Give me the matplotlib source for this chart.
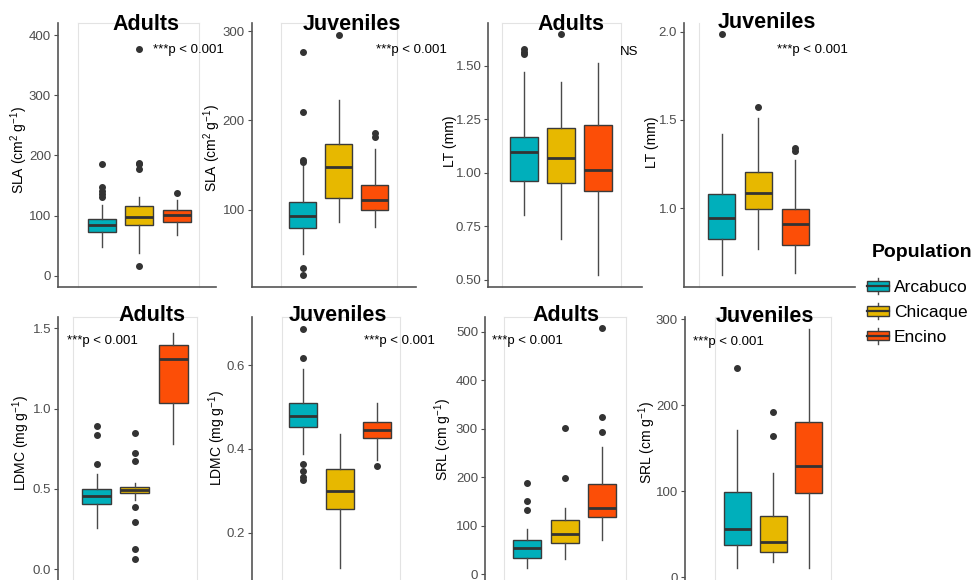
import matplotlib
matplotlib.use('Agg')
import matplotlib.pyplot as plt
from matplotlib.patches import Rectangle, Patch
from matplotlib.lines import Line2D
from matplotlib.legend_handler import HandlerBase

plt.rcParams['font.family'] = ['Liberation Sans', 'DejaVu Sans']
plt.rcParams['mathtext.fontset'] = 'custom'
plt.rcParams['mathtext.rm'] = 'Liberation Sans'
plt.rcParams['mathtext.it'] = 'Liberation Sans:italic'

populations = ['Arcabuco', 'Chicaque', 'Encino']
colors = ['#00AFBB', '#E7B800', '#FC4E07']

# box stats per population: [whisker low, q1, median, q3, whisker high]
sla_adults = [[48, 72.5, 84.6, 94.5, 118], [37, 85, 97, 115, 130], [67, 90, 101, 109, 126]]
sla_adults_out = [[130, 136, 141, 148, 186], [16, 177, 185, 188, 376], [138]]
sla_juv = [[50.5, 80, 93.3, 109.3, 150], [86.6, 113.4, 147.7, 173.4, 223], [80.6, 100, 111, 128, 167.8]]
sla_juv_out = [[27, 35.6, 154, 155.5, 209, 276], [296], [182, 185.5]]
lt_adults = [[0.804, 0.96, 1.095, 1.169, 1.469], [0.691, 0.953, 1.068, 1.211, 1.422], [0.522, 0.916, 1.012, 1.224, 1.514]]
lt_adults_out = [[1.555, 1.565, 1.578], [1.646], []]
lt_juv = [[0.621, 0.825, 0.943, 1.079, 1.419], [0.768, 0.996, 1.085, 1.204, 1.511], [0.636, 0.792, 0.909, 0.994, 1.274]]
lt_juv_out = [[1.985], [1.575], [1.326, 1.34]]
ldmc_adults = [[0.257, 0.406, 0.458, 0.497, 0.592], [0.43, 0.472, 0.493, 0.511, 0.54], [0.778, 1.035, 1.306, 1.393, 1.472]]
ldmc_adults_out = [[0.654, 0.834, 0.894], [0.066, 0.128, 0.292, 0.385, 0.675, 0.725, 0.849], []]
ldmc_juv = [[0.387, 0.453, 0.478, 0.509, 0.59], [0.115, 0.256, 0.30, 0.352, 0.435], [0.373, 0.425, 0.445, 0.463, 0.509]]
ldmc_juv_out = [[0.326, 0.334, 0.346, 0.363, 0.616, 0.687], [], [0.358]]
srl_adults = [[12.4, 33, 55, 70.7, 92.7], [30.9, 65.2, 83.8, 112, 137.4], [70.7, 118.8, 137.4, 186, 263]]
srl_adults_out = [[132.6, 151.8, 188.9], [197.8, 302.2], [292.6, 324.9, 506.9]]
srl_juv = [[10.5, 37.2, 55.8, 99.6, 171.3], [17.4, 29.8, 41.1, 71.3, 121.7], [11.2, 97.7, 129.5, 180.2, 288.4]]
srl_juv_out = [[243], [164.3, 192.6], []]

W, H = 974, 580
fig = plt.figure(figsize=(W / 100, H / 100), dpi=100)


def fxy(x, y):
    return x / W, 1 - y / H


def panel(stats, outs, ticks, ticklabels, title, note, ylabel, lay):
    L, R, T, B = lay['box']
    (v1, p1), (v2, p2) = lay['cal']
    k = (p1 - p2) / (v2 - v1)
    ytop = v1 + (p1 - T) / k
    ybot = v1 - (B - p1) / k
    c1, s, w = lay['x']
    ax = fig.add_axes([L / W, 1 - B / H, (R - L) / W, (B - T) / H])
    ax.set_facecolor('none')
    ax.set_xlim(1 + (L - c1) / s, 1 + (R - c1) / s)
    ax.set_ylim(ybot, ytop)

    # light panel border
    rx0, rx1 = lay['rect']
    gx0 = 1 + (rx0 - c1) / s
    ax.plot([gx0, gx0], [ybot, ytop], color='#E3E3E3', lw=0.8, clip_on=False, zorder=0)
    if rx1 is not None:
        gx1 = 1 + (rx1 - c1) / s
        ax.plot([gx1, gx1], [ybot, ytop], color='#E3E3E3', lw=0.8, clip_on=False, zorder=0)
        ax.plot([gx0, gx1], [ytop, ytop], color='#E3E3E3', lw=0.8, clip_on=False, zorder=0)

    bx = []
    for st, fl, name in zip(stats, outs, populations):
        bx.append(dict(whislo=st[0], q1=st[1], med=st[2], q3=st[3], whishi=st[4], fliers=fl, label=name))
    res = ax.bxp(bx, positions=[1, 2, 3], widths=w / s, patch_artist=True, showcaps=False,
                 boxprops=dict(edgecolor='#3A3A3A', lw=1.0),
                 medianprops=dict(color='#333333', lw=2.0),
                 whiskerprops=dict(color='#4A4A4A', lw=1.0),
                 flierprops=dict(marker='o', markersize=4, markerfacecolor='#333333',
                                 markeredgecolor='#333333'))
    for patch, c in zip(res['boxes'], colors):
        patch.set_facecolor(c)

    for sp in ['top', 'right']:
        ax.spines[sp].set_visible(False)
    for sp in ['left', 'bottom']:
        ax.spines[sp].set_color('#555555')
        ax.spines[sp].set_linewidth(1.2)
    ax.set_xticks([])
    ax.set_yticks(ticks)
    ax.set_yticklabels(ticklabels)
    ax.tick_params(axis='y', length=3, width=0.8, color='#4D4D4D', labelcolor='#4D4D4D',
                   labelsize=9.5, pad=2)

    tx, ty = lay['title']
    fig.text(*fxy(tx, ty), title, ha='center', va='baseline', fontsize=15.5, fontweight='bold')
    nx, ny, nha = lay['note']
    fig.text(*fxy(nx, ny), note, ha=nha, va='baseline', fontsize=9.5)
    lx, ly = lay['ylab']
    fig.text(*fxy(lx, ly), ylabel, ha='center', va='center', rotation=90, fontsize=10)


pv = '***p < 0.001'
sla_lab = 'SLA (cm$^{2}$ g$^{-1}$)'
lt_lab = 'LT (mm)'
ldmc_lab = 'LDMC (mg g$^{-1}$)'
srl_lab = 'SRL (cm g$^{-1}$)'

panel(sla_adults, sla_adults_out, [0, 100, 200, 300, 400], ['0', '100', '200', '300', '400'],
      'Adults', pv, sla_lab,
      dict(box=(58, 216, 23.3, 287.3), cal=((0, 275.7), (400, 35)), x=(101.5, 37.8, 28),
           rect=(78, 199), title=(146, 30), note=(153, 52.7, 'left'), ylab=(19, 150)))
panel(sla_juv, sla_juv_out, [100, 200, 300], ['100', '200', '300'],
      'Juveniles', pv, sla_lab,
      dict(box=(251.7, 416, 23.3, 287.3), cal=((100, 210), (300, 31)), x=(302.7, 36, 27),
           rect=(280.7, 396.7), title=(352, 29.5), note=(447, 53.3, 'right'), ylab=(212, 148)))
panel(lt_adults, lt_adults_out, [0.5, 0.75, 1.0, 1.25, 1.5], ['0.50', '0.75', '1.00', '1.25', '1.50'],
      'Adults', 'NS', lt_lab,
      dict(box=(488.3, 641.7, 23.3, 287.3), cal=((0.5, 280), (1.5, 65.7)), x=(524.3, 37, 28),
           rect=(501.7, 620.7), title=(571, 29.5), note=(620, 55, 'left'), ylab=(450, 141)))
panel(lt_juv, lt_juv_out, [1.0, 1.5, 2.0], ['1.0', '1.5', '2.0'],
      'Juveniles', pv, lt_lab,
      dict(box=(684, 855, 23.3, 287.3), cal=((1.0, 208.3), (2.0, 31.7)), x=(721.7, 36.7, 27),
           rect=(699.3, None), title=(767, 28.5), note=(848, 52.7, 'right'), ylab=(652, 142.5)))
panel(ldmc_adults, ldmc_adults_out, [0.0, 0.5, 1.0, 1.5], ['0.0', '0.5', '1.0', '1.5'],
      'Adults', pv, ldmc_lab,
      dict(box=(58.3, 216, 316.7, 586), cal=((0.0, 569.3), (1.5, 328.3)), x=(96.5, 38.4, 29),
           rect=(72.7, 196.7), title=(151.7, 321), note=(67, 344.3, 'left'), ylab=(21.5, 443)))
panel(ldmc_juv, ldmc_juv_out, [0.2, 0.4, 0.6], ['0.2', '0.4', '0.6'],
      'Juveniles', pv, ldmc_lab,
      dict(box=(252.3, 416, 316.7, 586), cal=((0.2, 532.7), (0.6, 365)), x=(303.3, 37, 28),
           rect=(281.7, 400), title=(338.3, 321), note=(435, 344.3, 'right'), ylab=(217, 438)))
panel(srl_adults, srl_adults_out, [0, 100, 200, 300, 400, 500], ['0', '100', '200', '300', '400', '500'],
      'Adults', pv, srl_lab,
      dict(box=(485, 641, 316.7, 586), cal=((0, 574.3), (500, 331.7)), x=(526.7, 37.8, 28),
           rect=(504.3, 625.7), title=(566.3, 321), note=(491.7, 344.3, 'left'), ylab=(443, 440)))
panel(srl_juv, srl_juv_out, [0, 100, 200, 300], ['0', '100', '200', '300'],
      'Juveniles', pv, srl_lab,
      dict(box=(685, 855, 316.7, 586), cal=((0, 577.3), (300, 319.3)), x=(737.3, 35.8, 27),
           rect=(715, 830.7), title=(765, 322), note=(693, 345, 'left'), ylab=(647, 443)))


class BoxKey(HandlerBase):
    def create_artists(self, legend, orig_handle, xdescent, ydescent, width, height, fontsize, trans):
        x0, y0 = -xdescent, -ydescent
        cx = x0 + width / 2
        box = Rectangle((x0, y0 + height * 0.2), width, height * 0.6,
                        facecolor=orig_handle.get_facecolor(), edgecolor='#3A3A3A', lw=1.0,
                        transform=trans)
        med = Line2D([x0, x0 + width], [y0 + height / 2] * 2, color='#333333', lw=1.6, transform=trans)
        wlo = Line2D([cx, cx], [y0, y0 + height * 0.2], color='#4A4A4A', lw=1.0, transform=trans)
        whi = Line2D([cx, cx], [y0 + height * 0.8, y0 + height], color='#4A4A4A', lw=1.0, transform=trans)
        return [wlo, whi, box, med]


fig.text(*fxy(872, 256.7), 'Population', ha='left', va='baseline', fontsize=14, fontweight='bold')
handles = [Patch(facecolor=c) for c in colors]
leg = fig.legend(handles, populations, handler_map={Patch: BoxKey()},
                 loc='upper left', bbox_to_anchor=fxy(867, 278), frameon=False,
                 fontsize=12.5, handlelength=1.25, handleheight=1.05, handletextpad=0.3,
                 labelspacing=0.45, borderpad=0, borderaxespad=0)

fig.savefig('out.png', dpi=100)
